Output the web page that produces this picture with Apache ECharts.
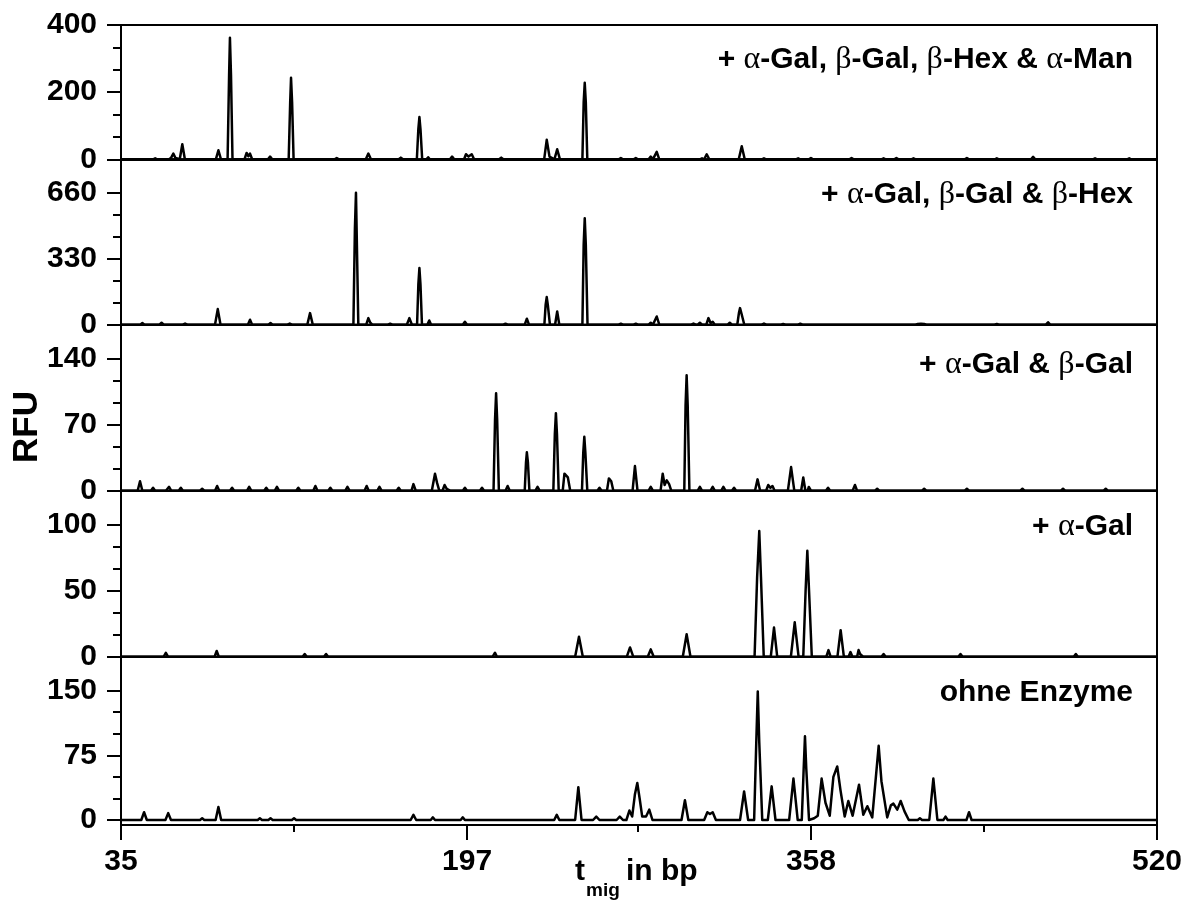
<!DOCTYPE html>
<html>
<head>
<meta charset="utf-8">
<script src="https://cdn.jsdelivr.net/npm/echarts@6/dist/echarts.min.js"></script>
<style>html,body{margin:0;padding:0;background:#fff}#c{width:1199px;height:905px}</style>
</head>
<body>
<div id="c"></div>
<script>
// ---------- data (x = t_mig in bp, y = RFU) ----------
const panelTitles = [
  '+ α-Gal, β-Gal, β-Hex & α-Man',
  '+ α-Gal, β-Gal & β-Hex',
  '+ α-Gal & β-Gal',
  '+ α-Gal',
  'ohne Enzyme'
];

const traceA = [[35,0],[50,0],[51,3],[52,0],[57.5,0],[58.5,5],[59.5,17],[60.5,4],[62.5,0],[63.7,45],[64.9,0],[79.4,0],[80.6,27],[81.8,0],[84.9,0],[85.6,250],[86.0,362],[86.5,250],[87.2,0],[92.8,0],[93.8,19],[94.6,9],[95.4,17],[96.4,0],[103.8,0],[104.8,8],[105.8,0],[113.5,0],[114.2,170],[114.6,243],[115.1,170],[115.8,0],[135,0],[136,4],[137,0],[149.6,0],[150.8,17],[152,0],[165,0],[166,5],[167,0],[173.5,0],[174.2,90],[174.7,126],[175.2,90],[176,0],[178,0],[178.8,6],[179.6,0],[189,0],[190,8],[191,0],[195.6,0],[196.5,15],[197.7,8],[199.2,15],[200.3,0],[212,0],[213,5],[214,0],[233.1,0],[234.3,58],[235.6,8],[237.9,0],[239.2,30],[240.5,0],[251,0],[251.6,170],[252.1,228],[252.6,170],[253.3,0],[268,0],[269,4],[270,0],[275,0],[276,4],[277,0],[282,0],[283,8],[284,0],[284.6,0],[285.8,22],[287,0],[306,0],[307,3],[308,0],[308.2,0],[309.2,15],[310.4,0],[324.2,0],[325.6,39],[327,0],[335,0],[336,3],[337,0],[351,0],[352,3],[353,0],[357,0],[358,4],[359,0],[376,0],[377,4],[378,0],[391,0],[392,3],[393,0],[397,0],[398,4],[399,0],[405,0],[406,3],[407,0],[430,0],[431,4],[432,0],[444,0],[445,3],[446,0],[461,0],[462,7],[463,0],[490,0],[491,3],[492,0],[506,0],[507,3],[508,0],[520,0]];

const traceB = [[35,0],[44,0],[45,8],[46,0],[53,0],[54,10],[55,0],[64,0],[65,6],[66,0],[79,0],[80.3,78],[81.6,0],[94.4,0],[95.4,25],[96.4,0],[104,0],[105,8],[106,0],[113,0],[114,6],[115,0],[122.2,0],[123.5,58],[124.8,0],[143.8,0],[144.5,480],[145.0,660],[145.5,660],[146.1,0],[149.8,0],[150.8,33],[151.6,12],[152.6,0],[160,0],[161,5],[162,0],[168.8,0],[170,33],[171.2,0],[173.6,0],[174.2,200],[174.7,283],[175.2,200],[175.9,0],[178.4,0],[179.3,21],[180.2,0],[195,0],[196,15],[197,0],[214,0],[215,5],[216,0],[224,0],[225,30],[226,0],[233.2,0],[233.8,100],[234.3,138],[234.8,100],[235.8,0],[238.2,0],[239.2,66],[240.2,0],[251,0],[251.6,400],[252.1,532],[252.6,400],[253.4,0],[268,0],[269,5],[270,0],[275,0],[276,5],[277,0],[282,0],[283,10],[284,0],[284.8,0],[285.8,41],[287,0],[302,0],[303,6],[304,0],[305,0],[306,10],[307,0],[309,0],[310,33],[311,8],[312,15],[313,0],[319,0],[320,10],[321,0],[323.5,0],[324.3,60],[324.8,83],[325.5,55],[326.8,0],[335,0],[336,6],[337,0],[344,0],[345,4],[346,0],[352,0],[353,5],[354,0],[368.5,0],[369.3,6],[370.2,0],[377,0],[377.7,5],[378.5,0],[407,0],[408,4],[408.6,0],[409.5,5],[410.2,0],[411,4],[412,0],[435,0],[435.7,5],[436.5,0],[444,0],[445,4],[446,0],[468,0],[469,12],[470,0],[502,0],[502.7,5],[503.5,0],[520,0]];

const traceC = [[35,0],[42.8,0],[43.9,10],[45,0],[49,0],[50,3],[51,0],[56,0],[57.5,4],[58.5,0],[62,0],[63,3],[64,0],[72,0],[73,2],[74,0],[79,0],[80,5],[81,0],[86,0],[87,3],[88,0],[94,0],[95,4],[96,0],[102,0],[103,3],[104,0],[107,0],[108,4],[109,0],[117,0],[118,3],[119,0],[125,0],[126,5],[127,0],[132,0],[133,3],[134,0],[140,0],[141,4],[142,0],[149,0],[150,5],[151,0],[155,0],[156,4],[157,0],[164,0],[165,3],[166,0],[171,0],[171.9,7],[173,0],[180.5,0],[182,18],[183,8],[184,0],[185.5,0],[186.5,6],[187.5,2],[189,0],[195,0],[196,3],[197,0],[203,0],[204,3],[205,0],[209.4,0],[210.1,75],[210.6,103],[211.1,75],[211.9,0],[215,0],[216,5],[217,0],[224,0],[224.6,30],[225,40.6],[225.5,30],[226.2,0],[229,0],[230,4],[231,0],[237.4,0],[238.1,60],[238.6,82],[239.1,60],[239.9,0],[241.8,0],[242.6,18],[243.3,20],[244.2,14],[245.3,0],[250.8,0],[251.4,40],[251.9,57],[252.4,40],[253.3,0],[258,0],[259,3],[260,0],[262.5,0],[263.4,13],[264.5,10],[265.5,0],[274.5,0],[275.6,26],[276.8,0],[282,0],[283,4],[284,0],[287.6,0],[288.6,18],[289.5,6],[290.5,11],[291.6,7],[292.6,0],[298.7,0],[299.3,90],[299.8,122],[300.3,90],[301.1,0],[305,0],[306,4],[307,0],[311,0],[312,4],[313,0],[316,0],[317,4],[318,0],[321,0],[322,3],[323,0],[331.8,0],[333,12],[334.2,0],[337,0],[338,6],[339,3],[340,5],[341,0],[347.2,0],[348.7,25],[350.2,0],[353.4,0],[354.4,14],[355.4,0],[356.5,0],[357,4],[358,0],[365,0],[366,3],[367,0],[377.5,0],[378.6,6],[379.6,0],[388,0],[389,2],[390,0],[410,0],[411,2],[412,0],[430,0],[431,2],[432,0],[456,0],[457,2],[458,0],[475,0],[476,2],[477,0],[495,0],[496,2],[497,0],[520,0]];

const traceD = [[35,0],[55,0],[56,3],[57,0],[78.8,0],[79.8,4.3],[80.8,0],[120,0],[121,2],[122,0],[130,0],[131,2],[132,0],[209,0],[210.1,3],[211,0],[247.6,0],[249.4,15],[251.2,0],[271.8,0],[273.3,7],[274.8,0],[281.6,0],[283,5.5],[284.4,0],[298,0],[299.8,17],[301.6,0],[331.6,0],[332.8,60],[333.8,95],[334.6,60],[335.9,0],[339.2,0],[340.7,22],[342.2,0],[348.6,0],[350.4,26],[352.2,0],[354.4,0],[355.5,50],[356.3,80],[357.1,50],[358.4,0],[365.2,0],[366.2,5],[367.2,0],[370.4,0],[371.9,20],[373.4,0],[375.6,0],[376.5,3.5],[377.4,0],[379.6,0],[380.3,5],[381,2],[381.6,3],[382.4,0],[391,0],[392,2],[393,0],[427,0],[428,2],[429,0],[481,0],[482,2],[483,0],[520,0]];

const traceE = [[35,0],[44.5,0],[45.8,9],[47.1,0],[55.8,0],[57.1,8],[58.4,0],[72,0],[73,2],[74,0],[79.3,0],[80.6,15],[81.9,0],[99,0],[100,2],[101,0],[104,0],[105,2],[106,0],[115,0],[116,2],[117,0],[170.6,0],[171.9,6],[173.2,0],[180,0],[181,3],[182,0],[194,0],[195,3],[196,0],[237.8,0],[239,6],[240.2,0],[247.6,0],[249.1,38],[250.6,0],[256,0],[257.5,4],[259,0],[267,0],[268.5,4],[270,0],[271.6,0],[273,11],[274.3,4],[275.6,30],[276.7,43],[277.8,25],[279,4],[280.8,4],[282.3,12],[283.8,0],[297.4,0],[299,23],[300.6,0],[308,0],[309.5,9],[310.7,7],[312,9],[313.5,0],[324.8,0],[326.7,33],[328.6,0],[331.4,0],[332.4,90],[333.1,149],[333.8,90],[335.2,0],[337.8,0],[339.6,39],[341.4,0],[347.8,0],[349.8,48],[351.8,0],[353.7,0],[354.6,60],[355.2,97],[355.8,60],[357.1,0],[359.5,2],[361.2,5],[363,48],[364.8,20],[366.8,5],[368.5,50],[370.3,62],[371.8,35],[373.8,4],[375.5,22],[377.5,5],[380.5,41],[382.5,6],[384.4,16],[386.7,3],[388.4,50],[389.7,86],[391,45],[393.7,3],[395.4,17],[396.6,19],[398.4,12],[400,22],[401.8,10],[403.8,0],[408,0],[409,2],[410,0],[413.4,0],[415.3,48],[417.2,0],[420,0],[421,4],[422,0],[430.8,0],[432,9],[433.2,0],[520,0]];

const traces = [traceA, traceB, traceC, traceD, traceE];

// axis ranges and tick labels
const xMin = 35, xMax = 520;
const xTickLabels = [35, 197, 358, 520];
const xMinorTicks = [116, 277, 439];
const yMins = [0, 0, 0, 0, -5.8];
const yMaxs = [400, 827, 175.5, 125.4, 189.4];
const yTickLabels = [[0,200,400],[0,330,660],[0,70,140],[0,50,100],[0,75,150]];
const yMinorTicks = [[66.67,133.33,266.67,333.33],[110,220,440,550],[23.33,46.67,93.33,116.67],[16.67,33.33,66.67,83.33],[25,50,100,125]];

// ---------- layout ----------
const gridTops = [25, 159.3, 324.7, 490.7, 656.7];
const gridHeights = [134.3, 165.4, 166, 166, 168.3];
const FONT = '"Liberation Sans", Arial, Helvetica, sans-serif';

const grids = [], xAxes = [], yAxes = [], series = [];
for (let i = 0; i < 5; i++) {
  grids.push({left: 121, right: 42, top: gridTops[i], height: gridHeights[i],
    show: true, borderColor: '#000', borderWidth: 2, outerBoundsMode: 'none', containLabel: false});
  const last = i === 4;
  xAxes.push({
    type: 'value', gridIndex: i, min: xMin, max: xMax, position: 'bottom',
    axisLine: {show: true, onZero: false, lineStyle: {color: '#000', width: 2}},
    axisTick: {show: last, customValues: xTickLabels, length: 15, lineStyle: {color: '#000', width: 2}},
    axisLabel: {show: last, customValues: xTickLabels, margin: 22, color: '#000',
      fontSize: 30, fontWeight: 'bold', fontFamily: FONT},
    splitLine: {show: false}
  });
  yAxes.push({
    type: 'value', gridIndex: i, min: yMins[i], max: yMaxs[i], position: 'left',
    axisLine: {show: true, lineStyle: {color: '#000', width: 2}},
    axisTick: {show: true, customValues: yTickLabels[i], length: 14, lineStyle: {color: '#000', width: 2}},
    axisLabel: {show: true, customValues: yTickLabels[i], margin: 24, color: '#000',
      fontSize: 30, fontWeight: 'bold', fontFamily: FONT},
    splitLine: {show: false}
  });
  series.push({
    type: 'line', xAxisIndex: i, yAxisIndex: i, data: traces[i],
    showSymbol: false, symbol: 'none', smooth: false, animation: false,
    lineStyle: {color: '#000', width: 2.5, join: 'round'}, z: 3
  });
}
// minor ticks
xAxes.push({
  type: 'value', gridIndex: 4, min: xMin, max: xMax, position: 'bottom',
  axisLine: {show: false, onZero: false},
  axisTick: {show: true, customValues: xMinorTicks, length: 7, lineStyle: {color: '#000', width: 2}},
  axisLabel: {show: false}, splitLine: {show: false}
});
for (let i = 0; i < 5; i++) {
  yAxes.push({
    type: 'value', gridIndex: i, min: yMins[i], max: yMaxs[i], position: 'left',
    axisLine: {show: false},
    axisTick: {show: true, customValues: yMinorTicks[i], length: 8, lineStyle: {color: '#000', width: 2}},
    axisLabel: {show: false}, splitLine: {show: false}
  });
}

// panel labels (Greek letters in a serif face)
const labelCenters = [60, 195, 365, 527, 693];
function richText(s) {
  let out = '', buf = '';
  for (const ch of s) {
    if (ch === 'α' || ch === 'β') {
      if (buf) { out += '{b|' + buf + '}'; buf = ''; }
      out += '{g|' + ch + '}';
    } else buf += ch;
  }
  if (buf) out += '{b|' + buf + '}';
  return out;
}
const richStyles = {
  b: {fontSize: 30, fontWeight: 'bold', fontFamily: FONT, fill: '#000', color: '#000'},
  g: {fontSize: 32, fontWeight: 'normal', fontFamily: '"Liberation Serif", "DejaVu Serif", serif', fill: '#000', color: '#000'}
};
const graphics = panelTitles.map((t, i) => ({
  type: 'text', x: 1133, y: labelCenters[i], z: 10,
  style: {text: richText(t), rich: richStyles, align: 'right', verticalAlign: 'middle',
    textAlign: 'right', textVerticalAlign: 'middle', fill: '#000'}
}));
graphics.push(
  {type: 'text', x: 27, y: 427, rotation: Math.PI / 2,
   style: {text: 'RFU', font: 'bold 35px ' + FONT, fill: '#000', align: 'center', verticalAlign: 'middle',
     textAlign: 'center', textVerticalAlign: 'middle'}},
  {type: 'text', x: 575, y: 872,
   style: {text: 't', font: 'bold 30px ' + FONT, fill: '#000', align: 'left', verticalAlign: 'middle',
     textAlign: 'left', textVerticalAlign: 'middle'}},
  {type: 'text', x: 586, y: 891,
   style: {text: 'mig', font: 'bold 19px ' + FONT, fill: '#000', align: 'left', verticalAlign: 'middle',
     textAlign: 'left', textVerticalAlign: 'middle'}},
  {type: 'text', x: 626, y: 872,
   style: {text: 'in bp', font: 'bold 30px ' + FONT, fill: '#000', align: 'left', verticalAlign: 'middle',
     textAlign: 'left', textVerticalAlign: 'middle'}}
);

const chart = echarts.init(document.getElementById('c'), null, {renderer: 'canvas'});
chart.setOption({
  backgroundColor: '#fff',
  animation: false,
  grid: grids,
  xAxis: xAxes,
  yAxis: yAxes,
  series: series,
  graphic: graphics
});
</script>
</body>
</html>
